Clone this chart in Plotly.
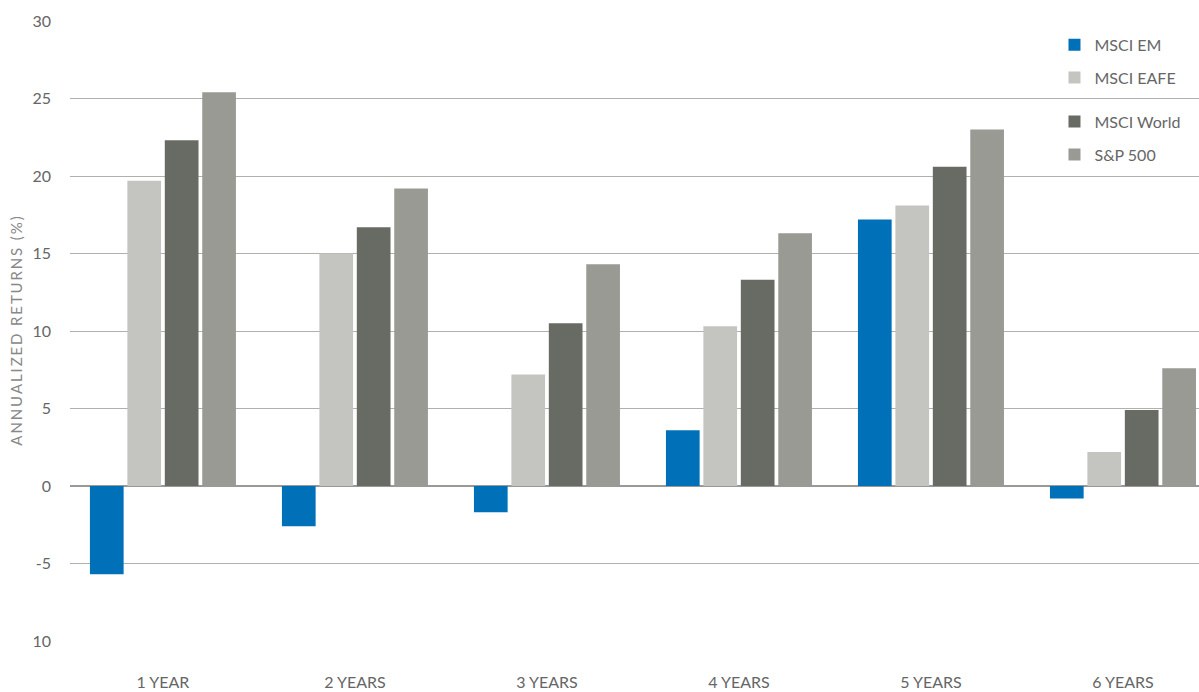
import plotly.graph_objects as go

periods = ["1 YEAR", "2 YEARS", "3 YEARS", "4 YEARS", "5 YEARS", "6 YEARS"]
msci_em = [-5.7, -2.6, -1.7, 3.6, 17.2, -0.8]
msci_eafe = [19.7, 15.0, 7.2, 10.3, 18.1, 2.2]
msci_world = [22.3, 16.7, 10.5, 13.3, 20.6, 4.9]
sp500 = [25.4, 19.2, 14.3, 16.3, 23.0, 7.6]

y_tickvals = [30, 25, 20, 15, 10, 5, 0, -5, -10]
y_ticktext = ["30", "25", "20", "15", "10", "5", "0", "-5", "10"]

series = [
    ("MSCI EM", msci_em, "#0070b8", "legend"),
    ("MSCI EAFE", msci_eafe, "#c4c5c0", "legend"),
    ("MSCI World", msci_world, "#676b64", "legend2"),
    ("S&P 500", sp500, "#999a94", "legend2"),
]

FONT = "Lato, 'Open Sans', sans-serif"

fig = go.Figure()
for name, vals, color, leg in series:
    fig.add_trace(go.Bar(
        name=name, x=periods, y=vals,
        marker=dict(color=color, line=dict(width=0)),
        legend=leg, legendgroup=name,
    ))

legend_style = dict(
    xanchor="left", yanchor="top", bgcolor="rgba(0,0,0,0)",
    font=dict(size=16, color="#666666"), tracegroupgap=9,
)

# axis title with a little letter spacing
title_text = "\u2009".join("ANNUALIZED RETURNS (%)")

fig.update_layout(
    width=1199, height=692,
    paper_bgcolor="white", plot_bgcolor="white",
    margin=dict(l=70, r=0, t=21, b=51, autoexpand=False),
    barmode="group", bargap=0.22, bargroupgap=0.1,
    font=dict(family=FONT, color="#666666", size=15),
    showlegend=True,
    legend=dict(x=0.872, y=0.989, **legend_style),
    legend2=dict(x=0.872, y=0.865, **legend_style),
    xaxis=dict(
        range=[-0.484, 5.396], showgrid=False, showline=False,
        ticks="", ticklabelstandoff=30, tickfont=dict(size=16, color="#666666"),
    ),
    yaxis=dict(
        range=[-10, 30], tickvals=y_tickvals, ticktext=y_ticktext,
        showgrid=True, gridcolor="#b0b0ac", gridwidth=1,
        zeroline=True, zerolinecolor="#999a94", zerolinewidth=2,
        showline=False, ticks="", ticklabelstandoff=18,
        tickfont=dict(size=16, color="#666666"),
        title=dict(text=title_text, font=dict(size=15, color="#888888"), standoff=6),
    ),
)

fig.write_html("out.html")
